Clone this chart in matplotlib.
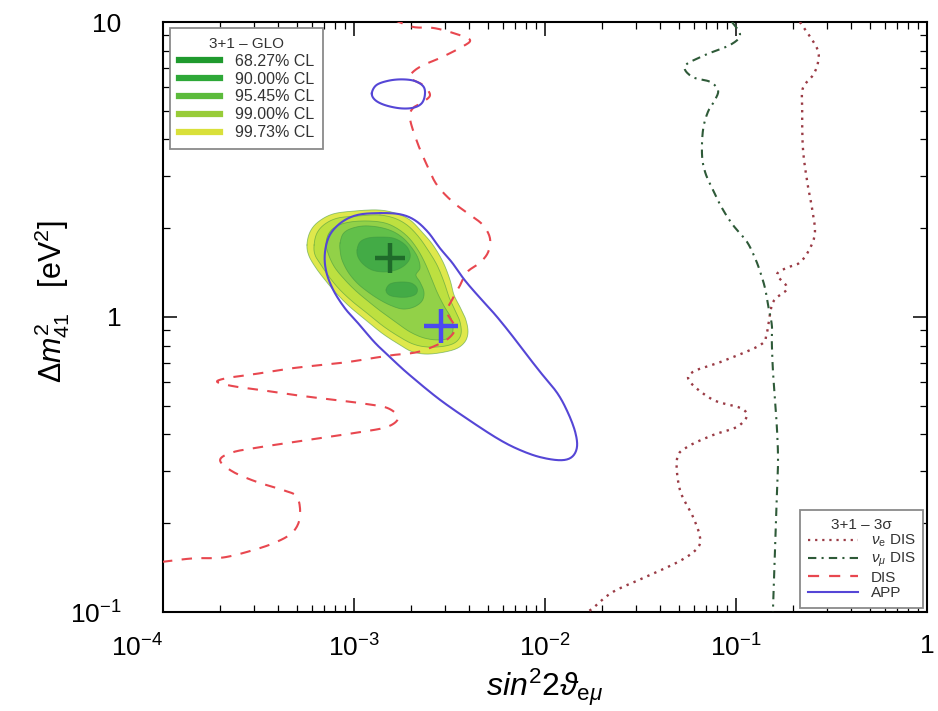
import numpy as np
import matplotlib
matplotlib.use("Agg")
import matplotlib.pyplot as plt
from matplotlib.lines import Line2D

plt.rcParams.update({
    "font.family": ["Liberation Sans", "DejaVu Sans"],
    "mathtext.fontset": "custom",
    "mathtext.rm": "Liberation Sans",
    "mathtext.it": "Liberation Sans:italic",
    "mathtext.bf": "Liberation Sans:bold",
})

# ---------------- data ----------------
# 3+1 global fit allowed regions (sin^2 2theta_emu, Delta m^2_41 [eV^2])
cl9973_s2 = [5.67e-4, 5.88e-4, 6.48e-4, 7.76e-4, 1.012e-3, 1.336e-3, 1.639e-3, 1.964e-3, 2.270e-3, 2.592e-3,
             2.926e-3, 3.184e-3, 3.339e-3, 3.591e-3, 3.855e-3, 3.951e-3, 3.767e-3, 3.299e-3, 2.497e-3, 2.036e-3,
             1.741e-3, 1.418e-3, 1.170e-3, 0.953e-3, 0.805e-3, 0.705e-3, 0.632e-3, 0.581e-3]
cl9973_dm2 = [1.754, 1.941, 2.099, 2.235, 2.288, 2.306, 2.252, 2.133, 1.941, 1.754,
              1.536, 1.335, 1.188, 1.081, 0.977, 0.883, 0.816, 0.773, 0.749, 0.761,
              0.804, 0.876, 0.969, 1.081, 1.206, 1.335, 1.466, 1.610]

cl9900_s2 = [6.18e-4, 6.40e-4, 7.05e-4, 8.25e-4, 1.049e-3, 1.336e-3, 1.619e-3, 1.894e-3, 2.163e-3, 2.439e-3,
             2.721e-3, 2.961e-3, 3.142e-3, 3.379e-3, 3.591e-3, 3.634e-3, 3.420e-3, 2.996e-3, 2.439e-3, 2.036e-3,
             1.700e-3, 1.418e-3, 1.184e-3, 0.988e-3, 0.845e-3, 0.749e-3, 0.672e-3, 0.625e-3]
cl9900_dm2 = [1.754, 1.926, 2.067, 2.166, 2.200, 2.218, 2.166, 2.051, 1.882, 1.687,
              1.500, 1.314, 1.169, 1.056, 0.962, 0.876, 0.823, 0.797, 0.791, 0.810,
              0.862, 0.932, 1.024, 1.124, 1.235, 1.355, 1.500, 1.623]

cl9545_s2 = [7.14e-4, 7.40e-4, 8.15e-4, 0.953e-3, 1.184e-3, 1.453e-3, 1.700e-3, 1.940e-3, 2.163e-3, 2.354e-3,
             2.527e-3, 2.721e-3, 2.961e-3, 3.222e-3, 3.299e-3, 3.142e-3, 2.754e-3, 2.325e-3, 1.964e-3, 1.679e-3,
             1.418e-3, 1.199e-3, 1.024e-3, 0.897e-3, 0.796e-3, 0.740e-3]
cl9545_dm2 = [1.768, 1.926, 2.035, 2.099, 2.116, 2.083, 1.988, 1.853, 1.687, 1.524,
              1.366, 1.215, 1.090, 0.992, 0.904, 0.849, 0.836, 0.849, 0.890, 0.954,
              1.032, 1.124, 1.225, 1.335, 1.466, 1.610]

cl9000_s2 = [8.45e-4, 8.75e-4, 0.953e-3, 1.114e-3, 1.336e-3, 1.580e-3, 1.806e-3, 2.012e-3, 2.163e-3, 2.216e-3,
             2.111e-3, 2.216e-3, 2.325e-3, 2.270e-3, 2.061e-3, 1.806e-3, 1.580e-3, 1.368e-3, 1.184e-3, 1.037e-3,
             0.930e-3, 0.865e-3, 0.845e-3]
cl9000_dm2 = [1.782, 1.911, 1.988, 2.035, 2.019, 1.957, 1.853, 1.714, 1.585, 1.466,
              1.388, 1.314, 1.215, 1.133, 1.081, 1.064, 1.090, 1.142, 1.215, 1.304,
              1.421, 1.561, 1.687]

cl6827_upper_s2 = [1.037e-3, 1.075e-3, 1.184e-3, 1.368e-3, 1.600e-3, 1.806e-3, 1.940e-3, 1.964e-3, 1.850e-3,
                   1.659e-3, 1.435e-3, 1.242e-3, 1.114e-3, 1.049e-3]
cl6827_upper_dm2 = [1.687, 1.796, 1.853, 1.867, 1.853, 1.782, 1.687, 1.585, 1.500,
                    1.443, 1.421, 1.443, 1.512, 1.598]
cl6827_lower_s2 = [1.471e-3, 1.543e-3, 1.741e-3, 1.988e-3, 2.137e-3, 2.111e-3, 1.917e-3, 1.679e-3, 1.524e-3]
cl6827_lower_dm2 = [1.235, 1.294, 1.314, 1.304, 1.254, 1.197, 1.169, 1.169, 1.188]

# 3 sigma bounds of the individual data sets
dis_s2 = [1.60e-3, 2.04e-3, 2.59e-3, 3.30e-3, 4.05e-3, 3.59e-3, 2.82e-3, 2.30e-3, 2.04e-3, 1.96e-3,
          2.30e-3, 2.50e-3, 2.30e-3, 2.04e-3, 1.96e-3, 2.14e-3, 2.41e-3, 2.72e-3, 3.30e-3, 4.05e-3,
          4.73e-3, 5.15e-3, 5.04e-3, 4.57e-3, 3.91e-3, 3.59e-3, 3.30e-3, 3.07e-3, 3.38e-3, 3.18e-3,
          2.72e-3, 2.14e-3, 1.60e-3, 1.26e-3, 9.2e-4, 6.64e-4, 4.80e-4, 3.63e-4, 2.75e-4, 2.16e-4,
          1.92e-4, 2.32e-4, 3.22e-4, 4.80e-4, 7.23e-4, 1.07e-3, 1.49e-3, 1.70e-3, 1.49e-3, 1.07e-3,
          7.23e-4, 4.80e-4, 3.22e-4, 2.32e-4, 1.99e-4, 2.32e-4, 3.10e-4, 4.25e-4, 5.04e-4, 5.21e-4,
          4.80e-4, 3.95e-4, 2.96e-4, 2.06e-4, 1.44e-4, 1.0e-4]
dis_dm2 = [10.2, 9.62, 9.55, 9.18, 8.69, 8.17, 7.55, 7.14, 6.78, 6.46,
           6.11, 5.66, 5.36, 5.11, 4.73, 3.92, 3.27, 2.80, 2.45, 2.22,
           2.05, 1.85, 1.66, 1.53, 1.42, 1.28, 1.16, 1.04, 0.925, 0.855,
           0.804, 0.760, 0.743, 0.726, 0.703, 0.687, 0.671, 0.652, 0.635, 0.621,
           0.603, 0.583, 0.566, 0.545, 0.527, 0.511, 0.492, 0.455, 0.424, 0.407,
           0.392, 0.377, 0.362, 0.348, 0.327, 0.299, 0.276, 0.259, 0.245, 0.210,
           0.187, 0.173, 0.162, 0.153, 0.152, 0.148]

nue_s2 = [0.216, 0.265, 0.269, 0.253, 0.224, 0.222, 0.224, 0.236, 0.250, 0.259,
          0.244, 0.216, 0.185, 0.164, 0.185, 0.156, 0.145, 0.134, 0.0855, 0.0596,
          0.0574, 0.0758, 0.105, 0.114, 0.101, 0.0758, 0.0553, 0.0491, 0.0509, 0.0596,
          0.0648, 0.0625, 0.0509, 0.0342, 0.0227, 0.0178, 0.016]
nue_dm2 = [10.0, 8.17, 7.31, 6.61, 5.97, 5.11, 3.74, 2.87, 2.34, 1.94,
           1.71, 1.53, 1.47, 1.39, 1.25, 1.12, 0.883, 0.804, 0.709, 0.652,
           0.603, 0.524, 0.492, 0.462, 0.424, 0.398, 0.362, 0.330, 0.259, 0.210,
           0.179, 0.164, 0.149, 0.132, 0.117, 0.103, 0.098]

numu_s2 = [0.0953, 0.105, 0.0931, 0.0689, 0.0541, 0.0589, 0.0731, 0.0805, 0.0776, 0.0713,
           0.0672, 0.0664, 0.0689, 0.0748, 0.0845, 0.0964, 0.114, 0.126, 0.134, 0.142,
           0.147, 0.154, 0.154, 0.156, 0.160, 0.164, 0.166, 0.164, 0.162, 0.160,
           0.158, 0.156]
numu_dm2 = [10.0, 9.03, 8.36, 7.73, 7.10, 6.52, 6.27, 5.87, 5.44, 4.96,
            4.31, 3.54, 3.10, 2.74, 2.34, 2.05, 1.80, 1.58, 1.42, 1.25,
            1.10, 0.940, 0.822, 0.661, 0.524, 0.414, 0.327, 0.259, 0.205, 0.162,
            0.128, 0.100]

app_s2 = [1.37e-3, 1.74e-3, 2.08e-3, 2.44e-3, 2.82e-3, 3.26e-3, 3.81e-3, 4.57e-3, 5.47e-3, 6.56e-3,
          7.67e-3, 9.42e-3, 1.16e-2, 1.32e-2, 1.44e-2, 1.47e-2, 1.38e-2, 1.20e-2, 9.42e-3, 7.40e-3,
          5.81e-3, 4.20e-3, 2.82e-3, 1.96e-3, 1.60e-3, 1.29e-3, 1.07e-3, 8.97e-4, 7.76e-4, 7.13e-4,
          7.05e-4, 7.48e-4, 8.65e-4, 1.05e-3]
app_dm2 = [2.25, 2.23, 2.13, 1.94, 1.71, 1.53, 1.33, 1.16, 1.02, 0.883,
           0.773, 0.652, 0.552, 0.473, 0.407, 0.362, 0.335, 0.327, 0.335, 0.354,
           0.383, 0.438, 0.524, 0.635, 0.715, 0.817, 0.940, 1.07, 1.24, 1.44,
           1.66, 1.90, 2.10, 2.22]

app_island_s2 = [1.24e-3, 1.31e-3, 1.51e-3, 1.78e-3, 2.08e-3, 2.31e-3, 2.35e-3, 2.26e-3, 2.04e-3, 1.74e-3,
                 1.45e-3, 1.29e-3]
app_island_dm2 = [5.73, 6.11, 6.32, 6.39, 6.31, 6.04, 5.66, 5.30, 5.12, 5.10, 5.23, 5.44]

glo_best = (1.54e-3, 1.58)
app_best = (2.85e-3, 0.932)

cl_labels = ["68.27% CL", "90.00% CL", "95.45% CL", "99.00% CL", "99.73% CL"]
cl_line_colors = ["#1f9a2e", "#2ea838", "#5cbb3c", "#98cc38", "#d9e03a"]
x_ticks = [1e-4, 1e-3, 1e-2, 1e-1, 1]
x_tick_labels = [r"$10^{-4}$", r"$10^{-3}$", r"$10^{-2}$", r"$10^{-1}$", "1"]
y_ticks = [0.1, 1, 10]
y_tick_labels = [r"$10^{-1}$", "1", "10"]


def smooth(xs, ys, closed=False, n=10):
    """Catmull-Rom spline through the points, in log-log space."""
    P = np.column_stack([np.log10(xs), np.log10(ys)])
    if closed:
        pts = np.vstack([P[-1:], P, P[:2]])
        segs = range(1, len(P) + 1)
    else:
        pts = np.vstack([P[:1], P, P[-1:]])
        segs = range(1, len(P))
    out = []
    for i in segs:
        p0, p1, p2, p3 = pts[i - 1], pts[i], pts[i + 1], pts[i + 2]
        for t in np.linspace(0, 1, n, endpoint=False):
            out.append(0.5 * (2 * p1 + (-p0 + p2) * t
                              + (2 * p0 - 5 * p1 + 4 * p2 - p3) * t * t
                              + (-p0 + 3 * p1 - 3 * p2 + p3) * t ** 3))
    out.append(pts[-2] if not closed else out[0])
    out = np.array(out)
    return 10 ** out[:, 0], 10 ** out[:, 1]


# ---------------- figure ----------------
fig = plt.figure(figsize=(9.38, 7.11), dpi=100)
ax = fig.add_axes([163 / 938, 99 / 711, 764 / 938, 590 / 711])
ax.set_xscale("log")
ax.set_yscale("log")
ax.set_xlim(1e-4, 1)
ax.set_ylim(0.1, 10)

regions = [
    (cl9973_s2, cl9973_dm2, "#dfe84c"),
    (cl9900_s2, cl9900_dm2, "#bde040"),
    (cl9545_s2, cl9545_dm2, "#92d148"),
    (cl9000_s2, cl9000_dm2, "#62c04a"),
    (cl6827_upper_s2, cl6827_upper_dm2, "#43ab46"),
    (cl6827_lower_s2, cl6827_lower_dm2, "#43ab46"),
]
for s2, dm2, fc in regions:
    sx, sy = smooth(s2, dm2, closed=True)
    ax.fill(sx, sy, color=fc, lw=0, zorder=1)
    ax.plot(sx, sy, color="#3d9440", lw=0.6, alpha=0.55, zorder=1.5)

lw = 1.5
ax.plot(*smooth(dis_s2, dis_dm2), color="#e8474f", lw=lw, ls=(0, (5, 4.5)), zorder=3)
ax.plot(*smooth(nue_s2, nue_dm2), color="#9a3b45", lw=1.7, ls=(0, (1, 2.2)), zorder=3)
ax.plot(*smooth(numu_s2, numu_dm2), color="#2e5a38", lw=1.5, ls=(0, (4, 2.5, 1, 2.5)), zorder=3)
ax.plot(*smooth(app_s2, app_dm2, closed=True), color="#5546d6", lw=lw, zorder=3)
ax.plot(*smooth(app_island_s2, app_island_dm2, closed=True), color="#5546d6", lw=lw, zorder=3)

ax.plot(*glo_best, marker="+", ms=22, mew=3.2, color="#1f6b2a", zorder=5)
ax.plot(*app_best, marker="+", ms=24, mew=3.2, color="#4a4af0", zorder=5)

# axes styling
for sp in ax.spines.values():
    sp.set_linewidth(1.5)
ax.set_xticks(x_ticks)
ax.set_xticklabels(x_tick_labels)
ax.set_yticks(y_ticks)
ax.set_yticklabels(y_tick_labels)
ax.tick_params(which="major", direction="in", length=10, width=1.1, top=True, right=True, labelsize=19)
ax.tick_params(which="minor", direction="in", length=5, width=0.9, top=True, right=True)
ax.tick_params(axis="x", pad=16)
ax.tick_params(axis="y", pad=30)
ax.get_xticklabels()[0].set_horizontalalignment("right")

fig.text(545 / 938, 1 - 688 / 711, r"$sin^{2}2\vartheta_{\mathrm{e}\mu}$", fontsize=23, ha="center", va="center")
fig.text(52 / 938, 1 - 302 / 711, r"$\Delta m^{2}_{41}$   [eV$^{2}$]", fontsize=22,
         rotation=90, ha="center", va="center")

# legends
glo_handles = [Line2D([], [], color=c, lw=4.5) for c in cl_line_colors]
leg1 = ax.legend(glo_handles, cl_labels, title="3+1 – GLO", loc="upper left",
                 bbox_to_anchor=(7 / 764, 1 - 6 / 590), fontsize=11.5, title_fontsize=11,
                 handlelength=2.6, handletextpad=0.9, labelspacing=0.18, borderpad=0.55,
                 fancybox=False, framealpha=1, edgecolor="#8a8a8a", borderaxespad=0)
leg1.get_frame().set_linewidth(1.3)
for t in leg1.get_texts():
    t.set_color("#333333")
leg1.get_title().set_color("#333333")
ax.add_artist(leg1)

sig_handles = [
    Line2D([], [], color="#9a3b45", lw=1.6, ls=(0, (1, 2.2))),
    Line2D([], [], color="#2e5a38", lw=1.5, ls=(0, (4, 2.5, 1, 2.5))),
    Line2D([], [], color="#e8474f", lw=1.6, ls=(0, (5, 4.5))),
    Line2D([], [], color="#5546d6", lw=1.5),
]
sig_labels = [r"$\nu_{\mathrm{e}}$ DIS", r"$\nu_\mu$ DIS", "DIS", "APP"]
leg2 = ax.legend(sig_handles, sig_labels, title="3+1 – 3σ", loc="lower right",
                 bbox_to_anchor=(1 - 4 / 764, 4 / 590), fontsize=11, title_fontsize=11,
                 handlelength=3.3, handletextpad=0.8, labelspacing=0.1, borderpad=0.5,
                 fancybox=False, framealpha=1, edgecolor="#8a8a8a", borderaxespad=0)
leg2.get_frame().set_linewidth(1.3)
for t in leg2.get_texts():
    t.set_color("#333333")
leg2.get_title().set_color("#333333")

fig.savefig("out.png", dpi=100)
